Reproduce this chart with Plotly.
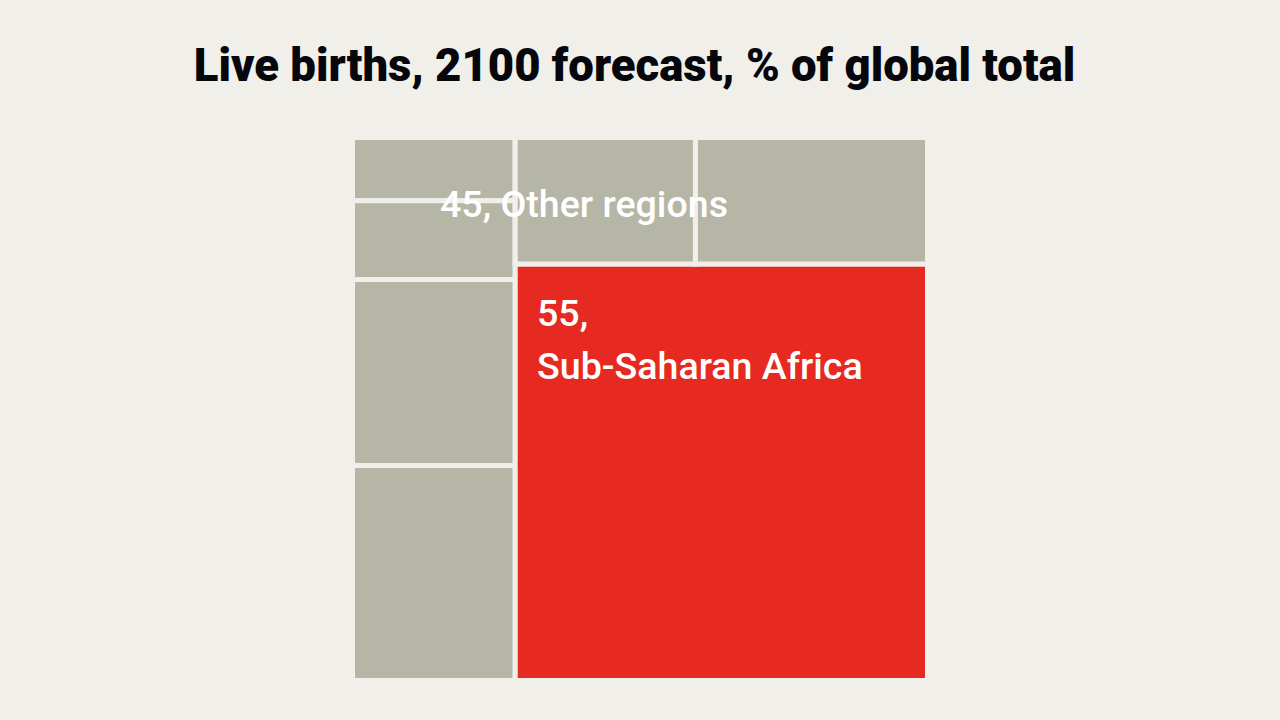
import plotly.graph_objects as go

ids = ["root", "left", "right", "top", "g1", "g2", "g3", "g4", "g5", "g6", "africa"]
parents = ["", "root", "root", "right", "left", "left", "left", "left", "top", "top", "right"]
# share of global births; group nodes carry no value of their own
values = [0, 0, 0, 0, 3.3, 4.1, 9.7, 11.2, 7.3, 9.4, 55]
BG = "#f0efea"
GREY = "#b6b6a7"
RED = "#e62a22"
colors = [BG, BG, BG, BG, GREY, GREY, GREY, GREY, GREY, GREY, RED]

W, H = 1280, 720


def label(text, x, y, anchor):
    return dict(
        text=text,
        x=x / W, y=1 - y / H, xref="paper", yref="paper",
        xanchor=anchor, yanchor="middle", showarrow=False,
        font=dict(family="Roboto", size=37.6, weight=500, color="white"),
    )


fig = go.Figure(
    go.Treemap(
        ids=ids,
        labels=ids,
        parents=parents,
        values=values,
        branchvalues="remainder",
        sort=False,
        textinfo="none",
        hoverinfo="skip",
        tiling=dict(packing="slice-dice", pad=0),
        pathbar=dict(visible=False),
        marker=dict(colors=colors, line=dict(color=BG, width=5), pad=dict(t=0, l=0, r=0, b=0)),
        domain=dict(x=[352.5 / W, 927.5 / W], y=[1 - 680.5 / H, 1 - 137.5 / H]),
    )
)
fig.update_layout(
    width=W,
    height=H,
    paper_bgcolor=BG,
    margin=dict(l=0, r=0, t=0, b=0),
    title=dict(
        text="Live births, 2100 forecast, % of global total",
        x=634.5 / W,
        xanchor="center",
        y=1 - 65 / H,
        yanchor="middle",
        font=dict(family="Roboto", size=45.5, weight=900, color="#05070c"),
    ),
    annotations=[
        label("45, Other regions", 584, 204, "center"),
        label("55,", 535, 313, "left"),
        label("Sub-Saharan Africa", 535, 366, "left"),
    ],
)
fig.write_html(
    "out.html",
    config={"displayModeBar": False},
    post_script="document.body.style.margin='0';",
)
